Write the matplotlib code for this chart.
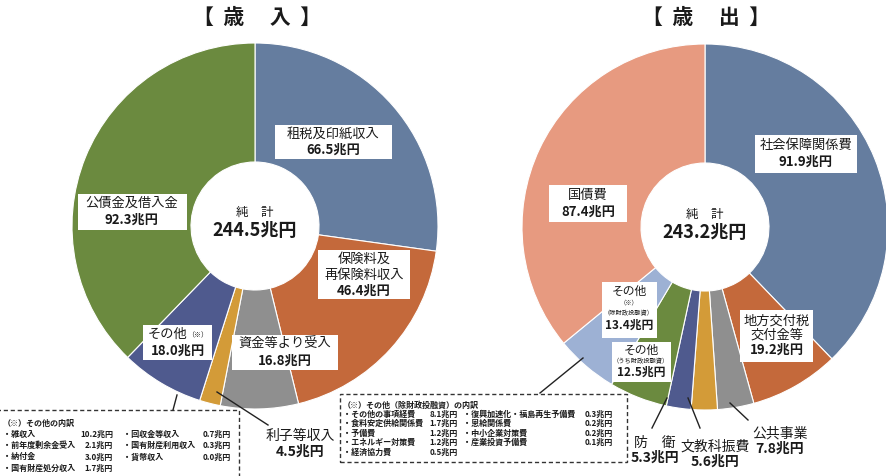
import matplotlib
matplotlib.use("Agg")
import matplotlib.pyplot as plt
import matplotlib.patches as patches

plt.rcParams["font.family"] = ["Noto Sans CJK JP", "DejaVu Sans"]

W, H = 886, 476

# 歳入
rev_labels = ["租税及印紙収入", "保険料及再保険料収入", "資金等より受入", "利子等収入", "その他", "公債金及借入金"]
rev_values = [66.5, 46.4, 16.8, 4.5, 18.0, 92.3]
rev_total = "244.5兆円"

# 歳出
exp_labels = ["社会保障関係費", "地方交付税交付金等", "公共事業", "文教科振費", "防衛",
              "その他(うち財政投融資)", "その他(除財政投融資)", "国債費"]
exp_values = [91.9, 19.2, 7.8, 5.6, 5.3, 12.5, 13.4, 87.4]
exp_total = "243.2兆円"

# その他の内訳
rev_other = [("・雑収入", "10.2兆円", "・回収金等収入", "0.7兆円"),
             ("・前年度剰余金受入", "2.1兆円", "・国有財産利用収入", "0.3兆円"),
             ("・納付金", "3.0兆円", "・貨幣収入", "0.0兆円"),
             ("・国有財産処分収入", "1.7兆円", "", "")]
exp_other = [("・その他の事項経費", "8.1兆円", "・復興加速化・福島再生予備費", "0.3兆円"),
             ("・食料安定供給関係費", "1.7兆円", "・恩給関係費", "0.2兆円"),
             ("・予備費", "1.2兆円", "・中小企業対策費", "0.2兆円"),
             ("・エネルギー対策費", "1.2兆円", "・産業投資予備費", "0.1兆円"),
             ("・経済協力費", "0.5兆円", "", "")]

rev_colors = ["#657D9F", "#C4693B", "#8F8F8F", "#D39B38", "#4F5A8E", "#6B8A3F"]
exp_colors = ["#657D9F", "#C4693B", "#8F8F8F", "#D39B38", "#4F5A8E", "#6B8A3F", "#9DB1D4", "#E79A80"]

R_OUT, R_IN = 183, 64
DARK = "#1a1a1a"

fig = plt.figure(figsize=(W / 100, H / 100), dpi=100)
ax = fig.add_axes([0, 0, 1, 1])


def y(v):
    return H - v


def donut(values, colors, cx, cy):
    ax.pie(values, colors=colors, startangle=90, counterclock=False,
           center=(cx, y(cy)), radius=R_OUT,
           wedgeprops=dict(width=R_OUT - R_IN, edgecolor="white", linewidth=0.8))


def box(x0, y0, x1, y1):
    ax.add_patch(patches.Rectangle((x0, y(y1)), x1 - x0, y1 - y0,
                                   facecolor="white", edgecolor="none", zorder=3))


def txt(x, yy, s, size=9.5, bold=False, ha="center"):
    ax.text(x, y(yy), s, fontsize=size, fontweight="bold" if bold else "normal",
            ha=ha, va="center", color=DARK, zorder=4)


def leader(x0, y0, x1, y1):
    ax.plot([x0, x1], [y(y0), y(y1)], color="#222222", lw=1.0, zorder=4)


donut(rev_values, rev_colors, 255, 226)
donut(exp_values, exp_colors, 705, 227)

# titles
txt(257, 17, "【  歳　 入  】", size=15, bold=True)
txt(706, 17, "【  歳　 出  】", size=15, bold=True)

# centre totals
txt(255, 212, "純　計", size=9)
txt(255, 231, rev_total, size=13, bold=True)
txt(705, 214, "純　計", size=9)
txt(705, 232, exp_total, size=13, bold=True)

# 歳入 labels
box(275, 125, 392, 159)
txt(333, 134, rev_labels[0])
txt(333, 150, f"{rev_values[0]}兆円", bold=True)

box(318, 250, 410, 299)
txt(364, 259, "保険料及")
txt(364, 275, "再保険料収入")
txt(364, 291, f"{rev_values[1]}兆円", bold=True)

box(232, 335, 338, 370)
txt(285, 344, rev_labels[2])
txt(285, 361, f"{rev_values[2]}兆円", bold=True)

txt(300, 436, rev_labels[3], size=10)
txt(300, 452, f"{rev_values[3]}兆円", size=10, bold=True)
leader(217, 392, 268, 425)

box(143, 325, 212, 360)
txt(168, 334, rev_labels[4])
txt(198, 335, "（※）", size=5)
txt(178, 351, f"{rev_values[4]}兆円", bold=True)
leader(177, 395, 173, 410)

box(78, 194, 187, 230)
txt(132, 203, rev_labels[5])
txt(132, 220, f"{rev_values[5]}兆円", bold=True)

# 歳出 labels
box(755, 135, 857, 173)
txt(806, 145, exp_labels[0])
txt(806, 162, f"{exp_values[0]}兆円", bold=True)

box(740, 310, 813, 362)
txt(777, 321, "地方交付税")
txt(777, 335, "交付金等")
txt(777, 350, f"{exp_values[1]}兆円", bold=True)

txt(780, 433, exp_labels[2], size=10)
txt(780, 449, f"{exp_values[2]}兆円", size=10, bold=True)
leader(730, 403, 748, 420)

txt(715, 447, exp_labels[3], size=10)
txt(715, 462, f"{exp_values[3]}兆円", size=10, bold=True)
leader(688, 398, 700, 428)

txt(655, 443, "防　衛", size=10)
txt(655, 458, f"{exp_values[4]}兆円", size=10, bold=True)
leader(667, 398, 652, 428)

box(612, 342, 671, 382)
txt(641, 350, "その他", size=8.5)
txt(641, 361, "（うち財政投融資）", size=4.5)
txt(641, 372, f"{exp_values[5]}兆円", size=8.5, bold=True)

box(602, 282, 657, 338)
txt(629, 291, "その他", size=8.5)
txt(629, 302, "（※）", size=4.5)
txt(629, 313, "（除財政投融資）", size=4.5)
txt(629, 325, f"{exp_values[6]}兆円", size=8.5, bold=True)
leader(583, 358, 540, 393)

box(549, 185, 627, 222)
txt(588, 195, exp_labels[7])
txt(588, 212, f"{exp_values[7]}兆円", bold=True)


def dashed_box(x0, y0, x1, y1):
    ax.add_patch(patches.Rectangle((x0, y(y1)), x1 - x0, y1 - y0, facecolor="white",
                                   edgecolor="#333333", lw=1.0, linestyle=(0, (3, 2)), zorder=3))


def breakdown(rows, title, x0, xv1, x2, xv2, ytop, step):
    txt(x0, ytop, title, size=5.8, bold=True, ha="left")
    for i, (n1, v1, n2, v2) in enumerate(rows):
        yy = ytop + step * (i + 1)
        txt(x0, yy, n1, size=5.8, bold=True, ha="left")
        txt(xv1, yy, v1, size=5.8, bold=True, ha="right")
        if n2:
            txt(x2, yy, n2, size=5.8, bold=True, ha="left")
            txt(xv2, yy, v2, size=5.8, bold=True, ha="right")


dashed_box(-5, 410, 239, 490)
breakdown(rev_other, "（※）その他の内訳", 3, 113, 123, 231, 423, 11.3)

dashed_box(340, 394, 627, 462)
breakdown(exp_other, "（※）その他（除財政投融資）の内訳", 343, 458, 463, 613, 405, 9.4)

ax.set_xlim(0, W)
ax.set_ylim(0, H)
ax.set_aspect("equal")
ax.axis("off")

fig.savefig("out.png", dpi=100, facecolor="white")
